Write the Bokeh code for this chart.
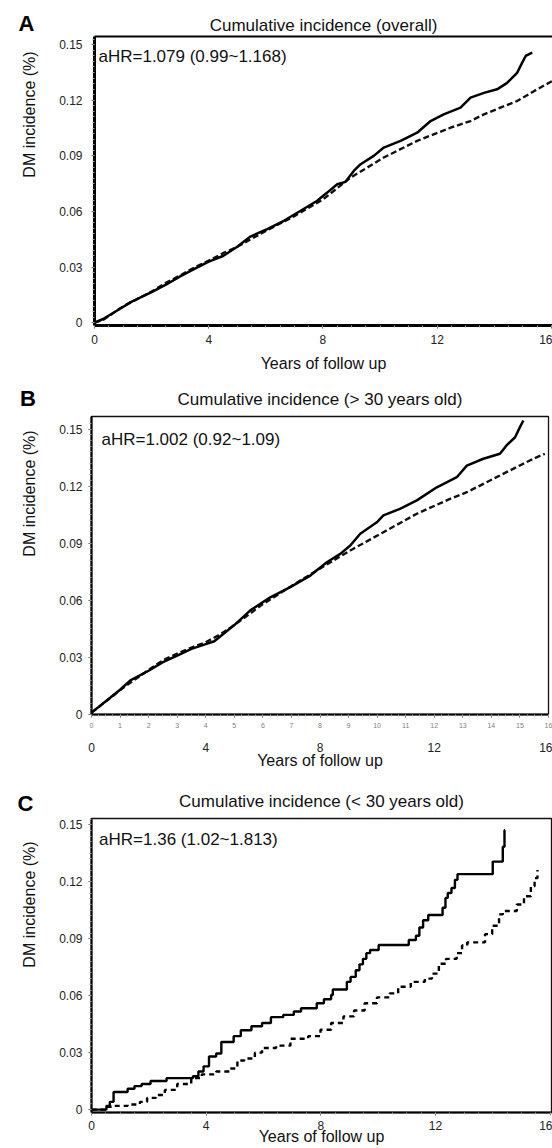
from bokeh.plotting import figure
from bokeh.models import Range1d, LinearAxis, FixedTicker, Label
from bokeh.layouts import column, row
from bokeh.embed import file_html
from bokeh.resources import INLINE
import numpy as np
import math

FONT = "Liberation Sans"

# ---------------- data ----------------
x_ticks = [0, 4, 8, 12, 16]
x_small_ticks = list(range(17))
y_ticks = [0, 0.03, 0.06, 0.09, 0.12, 0.15]
y_tick_labels = ["0", "0.03", "0.06", "0.09", "0.12", "0.15"]
x_axis_title = "Years of follow up"
y_axis_title = "DM incidence (%)"

a_letter = "A"
a_title = "Cumulative incidence (overall)"
a_hr = "aHR=1.079 (0.99~1.168)"
a_solid_t = [0, 0.3, 1.0, 1.25, 2.0, 2.5, 3.0, 3.5, 4.0, 4.5, 5.0, 5.46, 6.05, 6.63, 7.22, 7.8,
             8.15, 8.5, 8.79, 9.08, 9.32, 9.78, 10.13, 10.72, 11.3, 11.77, 12.23, 12.82, 13.17,
             13.64, 14.1, 14.45, 14.8, 14.98, 15.1, 15.33]
a_solid_v = [0, 0.002, 0.0085, 0.011, 0.0165, 0.0205, 0.025, 0.029, 0.033, 0.036, 0.041, 0.0465,
             0.0505, 0.055, 0.0604, 0.0658, 0.0702, 0.0747, 0.076, 0.0819, 0.0855, 0.09, 0.0945,
             0.0981, 0.1025, 0.1088, 0.1124, 0.116, 0.1214, 0.124, 0.1259, 0.1294, 0.1348,
             0.1403, 0.1439, 0.1457]
a_dash_t = [0, 0.3, 1.0, 2.0, 2.5, 3.0, 3.5, 4.0, 4.5, 5.0, 6.0, 7.0, 8.0, 8.97, 10.13, 11.3,
            12.47, 13.17, 13.64, 14.8, 15.5, 16.05]
a_dash_v = [0, 0.0015, 0.0088, 0.0168, 0.0215, 0.0255, 0.0298, 0.0335, 0.0375, 0.041, 0.0495,
            0.0575, 0.0665, 0.0783, 0.0891, 0.0981, 0.1052, 0.1088, 0.1124, 0.1196, 0.1259, 0.1305]

b_letter = "B"
b_title = "Cumulative incidence (> 30 years old)"
b_hr = "aHR=1.002 (0.92~1.09)"
b_solid_t = [0, 0.5, 1.0, 1.36, 2.0, 2.5, 3.0, 3.5, 4.0, 4.3, 5.0, 5.56, 6.26, 6.96, 7.66, 8.24,
             8.71, 9.06, 9.41, 9.99, 10.22, 10.8, 11.39, 12.09, 12.79, 13.14, 13.72, 14.3, 14.53,
             14.83, 15.0, 15.12]
b_solid_v = [0.001, 0.007, 0.013, 0.0179, 0.023, 0.0275, 0.031, 0.0345, 0.037, 0.0385, 0.047,
             0.0547, 0.0616, 0.0669, 0.073, 0.08, 0.0844, 0.0888, 0.095, 0.101, 0.1046, 0.1081,
             0.1125, 0.1194, 0.1247, 0.1308, 0.1344, 0.137, 0.1414, 0.1457, 0.151, 0.1545]
b_dash_t = [0, 0.5, 1.0, 2.0, 2.5, 3.0, 3.5, 4.0, 4.5, 5.0, 6.0, 7.0, 7.89, 9.06, 10.22, 11.39,
            12.55, 13.14, 13.72, 14.88, 15.47, 15.87]
b_dash_v = [0.001, 0.0068, 0.0128, 0.0235, 0.0285, 0.032, 0.0352, 0.038, 0.042, 0.047, 0.058,
            0.0675, 0.0757, 0.0862, 0.0958, 0.1055, 0.1133, 0.1168, 0.1212, 0.13, 0.1344, 0.137]

c_letter = "C"
c_title = "Cumulative incidence (< 30 years old)"
c_hr = "aHR=1.36 (1.02~1.813)"
c_solid_t = [0, 0.46, 0.52, 0.64, 0.77, 1.26, 1.5, 1.75, 2.06, 2.62, 3.54, 3.73, 3.91, 4.1,
             4.35, 4.53, 4.96, 5.21, 5.58, 5.95, 6.26, 6.69, 7.06, 7.31, 7.86, 8.11, 8.36, 8.42,
             8.91, 9.04, 9.22, 9.35, 9.47, 9.59, 9.72, 10.02, 11.07, 11.32, 11.44, 11.57, 11.75,
             12.25, 12.35, 12.43, 12.56, 12.68, 12.77, 14.0, 14.35, 14.41, 14.43]
c_solid_v = [0, 0, 0.002, 0.0041, 0.0093, 0.011, 0.0124, 0.0135, 0.0151, 0.0166, 0.0176, 0.0201,
             0.0228, 0.028, 0.0296, 0.0356, 0.0387, 0.0418, 0.0439, 0.0456, 0.0487, 0.0499,
             0.0517, 0.0534, 0.056, 0.0581, 0.0604, 0.0633, 0.0673, 0.0699, 0.0734, 0.0765,
             0.0794, 0.0824, 0.0841, 0.0867, 0.0893, 0.0916, 0.0959, 0.0997, 0.1025, 0.1063,
             0.1115, 0.1141, 0.1167, 0.121, 0.124, 0.1306, 0.1384, 0.1471, 0.1471]
c_dash_t = [0, 0.46, 0.52, 0.77, 1.26, 1.69, 1.94, 2.25, 2.56, 2.99, 3.48, 3.85, 4.35, 4.84, 5.09,
            5.33, 5.7, 5.95, 6.44, 6.94, 7.56, 7.99, 8.36, 8.79, 9.16, 9.53, 9.96, 10.4, 10.7,
            11.14, 11.63, 11.88, 12.12, 12.37, 12.74, 12.93, 13.11, 13.73, 13.98, 14.22, 14.35,
            14.84, 15.09, 15.33, 15.46, 15.56]
c_dash_v = [0, 0, 0.0015, 0.002, 0.0027, 0.0041, 0.0062, 0.0077, 0.0104, 0.0135, 0.0166, 0.0186,
            0.0201, 0.0217, 0.0259, 0.0269, 0.03, 0.0325, 0.0337, 0.0373, 0.0387, 0.0421, 0.0456,
            0.0491, 0.0522, 0.056, 0.0591, 0.0612, 0.0647, 0.0673, 0.069, 0.0716, 0.0768, 0.0794,
            0.0824, 0.0864, 0.0881, 0.0924, 0.0968, 0.1028, 0.1046, 0.108, 0.1124, 0.1176,
            0.1219, 0.1262]

SIDE_W = 46


def side_panel(height, letter, letter_offset, letter_standoff, ylab_xy):
    s = figure(width=SIDE_W, height=height, output_backend="svg", toolbar_location=None,
               x_range=Range1d(0, 1), y_range=Range1d(0, 1), x_axis_type=None,
               y_axis_type=None, min_border=0, min_border_top=0, min_border_bottom=0,
               min_border_left=0, min_border_right=0, background_fill_color="white",
               border_fill_color="white")
    s.outline_line_color = None
    s.grid.visible = False
    # panel letter drawn as the side figure's title
    s.title.text = letter
    s.title.align = "left"
    s.title.offset = letter_offset
    s.title.vertical_align = "bottom"
    s.title.standoff = letter_standoff
    s.title.text_font = FONT
    s.title.text_font_size = "22px"
    s.title.text_font_style = "bold"
    s.title.text_color = "black"
    s.add_layout(Label(x=ylab_xy[0], y=ylab_xy[1], x_units="screen", y_units="screen",
                       text=y_axis_title, text_font=FONT, text_font_size="16px",
                       text_align="center", text_baseline="middle", angle=math.pi / 2,
                       text_color="#111111"))
    return s


def main_panel(title, hr, solid_t, solid_v, dash_t, dash_v, *, height, mb_left, mb_right,
               mb_top, mb_bottom, x_end, y_range, title_standoff, hr_xy, y_lab_standoff,
               axis_w, outline, step, small_ticks, x_lab_standoff, x_title_standoff,
               x_title_size="16px"):
    p = figure(width=552 - SIDE_W, height=height, output_backend="svg", toolbar_location=None,
               x_range=Range1d(0, x_end), y_range=Range1d(*y_range),
               min_border_left=mb_left, min_border_right=mb_right, min_border_top=mb_top,
               min_border_bottom=mb_bottom, background_fill_color="white",
               border_fill_color="white")
    p.grid.visible = False
    xa = p.below[0]
    ya = p.left[0]
    if outline:
        p.outline_line_color = "#111111"
        p.outline_line_width = 1.3
    else:
        p.outline_line_color = None
        top = LinearAxis(ticker=FixedTicker(ticks=[]), axis_line_width=2.2,
                         axis_line_color="black", major_tick_line_color=None,
                         minor_tick_line_color=None, major_tick_out=0, minor_tick_out=0,
                         major_label_text_font_size="0px", major_label_standoff=0)
        p.add_layout(top, "above")

    p.title.text = title
    p.title.align = "center"
    p.title.text_font = FONT
    p.title.text_font_size = "17px"
    p.title.text_font_style = "normal"
    p.title.text_color = "#111111"
    p.title.standoff = title_standoff

    # y axis
    ya.ticker = FixedTicker(ticks=y_ticks,
                            minor_ticks=list(np.round(np.arange(0, 0.156, 0.003), 4)))
    ya.major_label_overrides = {t: s for t, s in zip(y_ticks, y_tick_labels)}
    ya.major_label_text_font = FONT
    ya.major_label_text_font_size = "12px"
    ya.major_label_text_color = "#222222"
    ya.major_label_standoff = y_lab_standoff
    ya.major_tick_out = 3
    ya.major_tick_in = 0
    ya.major_tick_line_color = "#555555"
    ya.minor_tick_out = 2
    ya.minor_tick_in = 0
    ya.minor_tick_line_color = "#a0a0a0"
    ya.axis_line_width = axis_w
    ya.axis_line_color = "black"

    # x axis
    xa.axis_line_width = axis_w
    xa.axis_line_color = "black"
    xa.major_tick_in = 0
    xa.minor_tick_in = 0
    xa.major_tick_line_color = "#555555"
    xa.minor_tick_line_color = "#a0a0a0"
    xa.major_tick_out = 3
    xa.minor_tick_out = 2
    if small_ticks:
        xa.ticker = FixedTicker(ticks=x_small_ticks,
                                minor_ticks=list(np.arange(0, 16.01, 0.25)))
        xa.major_label_text_font = FONT
        xa.major_label_text_font_size = "7px"
        xa.major_label_text_color = "#808080"
        xa.major_label_standoff = 5
        xb = LinearAxis(ticker=FixedTicker(ticks=x_ticks), axis_line_color=None,
                        major_tick_line_color=None, minor_tick_line_color=None,
                        major_tick_out=0, minor_tick_out=0)
        p.add_layout(xb, "below")
    else:
        xa.ticker = FixedTicker(ticks=x_ticks, minor_ticks=list(np.arange(0, 16.01, 0.5)))
        xb = xa
    xb.major_label_text_font = FONT
    xb.major_label_text_font_size = "12px"
    xb.major_label_text_color = "#222222"
    xb.major_label_standoff = x_lab_standoff
    xb.axis_label = x_axis_title
    xb.axis_label_text_font = FONT
    xb.axis_label_text_font_size = x_title_size
    xb.axis_label_text_font_style = "normal"
    xb.axis_label_text_color = "#111111"
    xb.axis_label_standoff = x_title_standoff

    if step:
        p.step(dash_t, dash_v, mode="after", line_color="black", line_width=2.4,
               line_dash="5 4")
        p.step(solid_t, solid_v, mode="after", line_color="black", line_width=2.4)
    else:
        p.line(dash_t, dash_v, line_color="#111111", line_width=2.4, line_dash="6 3")
        p.line(solid_t, solid_v, line_color="black", line_width=2.5)

    p.add_layout(Label(x=hr_xy[0], y=hr_xy[1], x_units="screen", y_units="screen",
                       text=hr, text_font=FONT, text_font_size="17px", text_align="left",
                       text_baseline="middle", text_color="#111111"))
    return p


# Panel A (page rows 0-376)
sa = side_panel(376, a_letter, letter_offset=18, letter_standoff=2, ylab_xy=(29, 211))
pa = main_panel(a_title, a_hr, a_solid_t, a_solid_v, a_dash_t, a_dash_v,
                height=376, mb_left=48, mb_right=0, mb_top=36, mb_bottom=51, x_end=16.04,
                y_range=(-0.0015, 0.1544), title_standoff=4, hr_xy=(4, 269.5),
                y_lab_standoff=9, axis_w=3, outline=False, step=False, small_ticks=False,
                x_lab_standoff=6, x_title_standoff=8)

# Panel B (page rows 376-772)
sb = side_panel(396, b_letter, letter_offset=19.5, letter_standoff=11, ylab_xy=(29, 221))
pb = main_panel(b_title, b_hr, b_solid_t, b_solid_v, b_dash_t, b_dash_v,
                height=396, mb_left=45, mb_right=4, mb_top=40, mb_bottom=58, x_end=16,
                y_range=(0, 0.1566), title_standoff=15, hr_xy=(10, 275.3),
                y_lab_standoff=6, axis_w=2.2, outline=True, step=False, small_ticks=True,
                x_lab_standoff=12, x_title_standoff=-3)

# Panel C (page rows 772-1148)
sc = side_panel(376, c_letter, letter_offset=17, letter_standoff=6, ylab_xy=(29, 208))
pc = main_panel(c_title, c_hr, c_solid_t, c_solid_v, c_dash_t, c_dash_v,
                height=376, mb_left=45, mb_right=1, mb_top=46, mb_bottom=36, x_end=16.05,
                y_range=(-0.0015, 0.1533), title_standoff=15, hr_xy=(7.6, 273),
                y_lab_standoff=6, axis_w=2.2, outline=True, step=True, small_ticks=False,
                x_lab_standoff=5, x_title_standoff=-5)

layout = column(row(sa, pa, spacing=0), row(sb, pb, spacing=0), row(sc, pc, spacing=0),
                spacing=0)
open("out.html", "w").write(file_html(layout, INLINE))
